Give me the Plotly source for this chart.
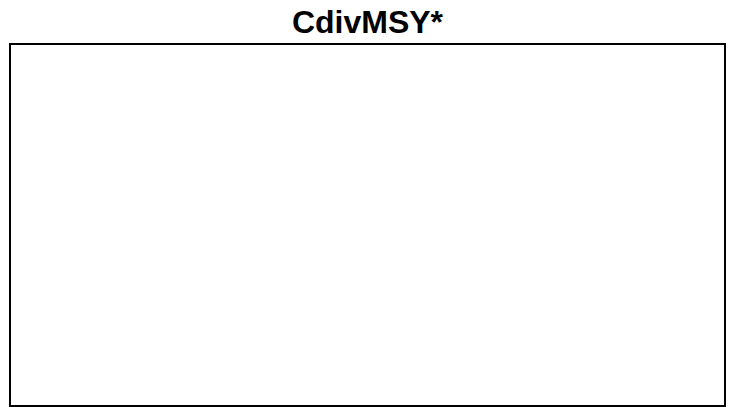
import plotly.graph_objects as go

title_text = "CdivMSY*"
x_values = []
y_values = []

fig = go.Figure()
fig.add_trace(go.Scatter(x=x_values, y=y_values, mode="lines", showlegend=False))

axis_style = dict(
    showline=True, mirror=True, linecolor="black", linewidth=2,
    showgrid=False, zeroline=False, showticklabels=False, ticks="",
    range=[0, 1],
)

fig.update_layout(
    width=735, height=407,
    margin=dict(l=11, r=11, t=45, b=2, pad=0),
    paper_bgcolor="white", plot_bgcolor="white",
    title=dict(text=f"<b>{title_text}</b>", x=0.5, xanchor="center",
               xref="paper", yref="container",
               y=1 - 22 / 407, yanchor="middle",
               font=dict(family="Liberation Sans, Arial", size=32, color="black")),
    xaxis=axis_style, yaxis=axis_style,
)

fig.write_html("out.html", config={"displayModeBar": False},
               post_script="document.body.style.margin='0';document.body.style.overflow='hidden';")
